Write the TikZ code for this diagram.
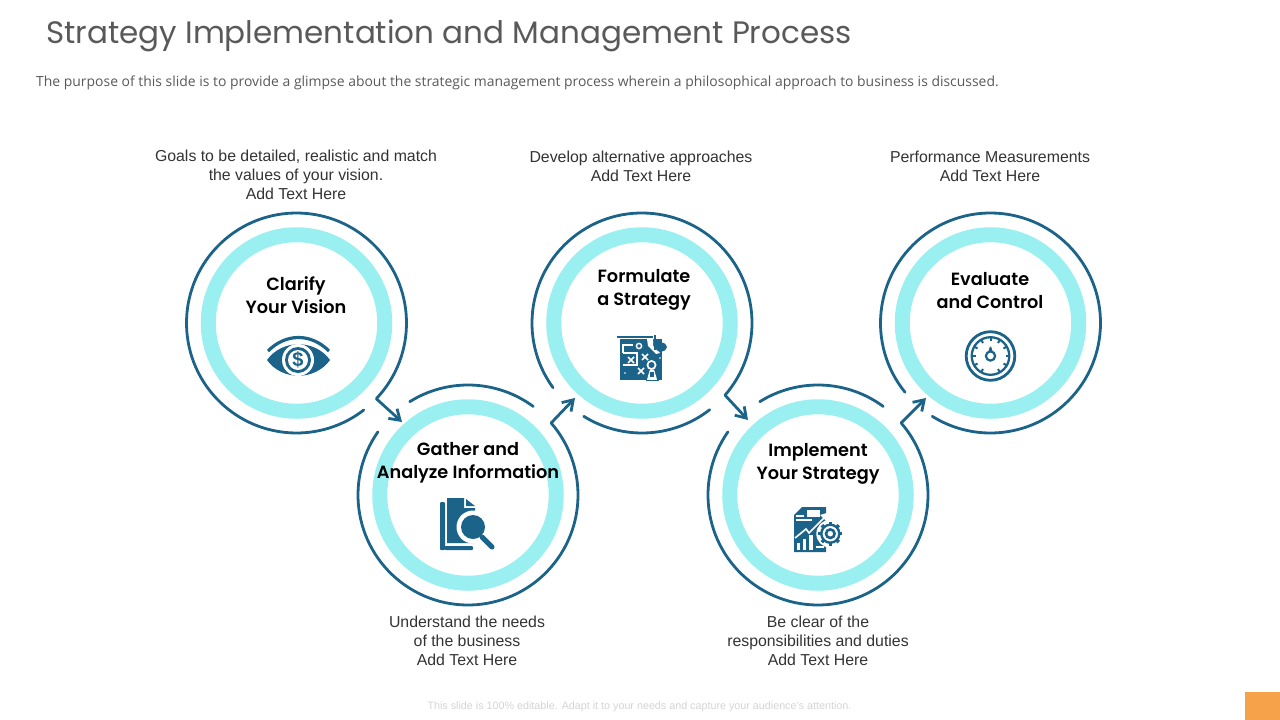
\documentclass[tikz,border=0pt]{standalone}
\usepackage{fontspec}
\usetikzlibrary{arrows.meta,calc}
\setmainfont{Liberation Sans}
\newfontfamily\titlefont{Poppins}
\newfontfamily\labelfont{Poppins SemiBold}
\newfontfamily\subfont{Open Sans}
\definecolor{navy}{HTML}{1B6388}
\definecolor{aqua}{HTML}{9AF0F0}
\definecolor{greytext}{HTML}{595959}
\definecolor{bodytext}{HTML}{333333}
\definecolor{foot}{HTML}{D4D4D4}
\definecolor{corner}{HTML}{F5A24B}
\tikzset{
 x=1pt,y=1pt,
 ring/.style={circle,draw=aqua,line width=15pt,minimum size=176.5pt,inner sep=0pt},
 arcline/.style={draw=navy,line width=2.8pt,line cap=round},
 connector/.style={draw=navy,line width=2.8pt,line join=miter,-{Straight Barb[length=10pt,width=13pt,line width=2.8pt]}},
 steptext/.style={font=\labelfont\fontsize{17.7}{23}\selectfont,align=center,text=black,inner sep=0pt},
 note/.style={font=\fontsize{15.85}{19}\selectfont,align=center,text=bodytext,inner sep=0pt},
 whiteline/.style={draw=white,line width=1.4pt},
}
\begin{document}
\begin{tikzpicture}
\useasboundingbox (0,0) rectangle (1280,-720);
% rings
\node[ring] (c1) at (296.5,-323) {};
\node[ring] (c2) at (468,-495) {};
\node[ring] (c3) at (642,-323) {};
\node[ring] (c4) at (818,-495) {};
\node[ring] (c5) at (990.5,-323) {};
% outer arcs
\draw[arcline] ($(c1)+(-43.5:110)$) arc[start angle=-43.5,end angle=307.7,radius=110pt];
\draw[arcline] ($(c2)+(53.6:110)$) arc[start angle=53.6,end angle=122,radius=110pt];
\draw[arcline] ($(c2)+(145:110)$) arc[start angle=145,end angle=400.9,radius=110pt];
\draw[arcline] ($(c3)+(216:110)$) arc[start angle=216,end angle=-41,radius=110pt];
\draw[arcline] ($(c3)+(238:110)$) arc[start angle=238,end angle=308,radius=110pt];
\draw[arcline] ($(c4)+(53.6:110)$) arc[start angle=53.6,end angle=122,radius=110pt];
\draw[arcline] ($(c4)+(145:110)$) arc[start angle=145,end angle=400.9,radius=110pt];
\draw[arcline] ($(c5)+(219:110)$) arc[start angle=219,end angle=-122,radius=110pt];
% connectors
\coordinate (a1s) at ($(c1)+(-43.5:110)$); \coordinate (a1e) at (402,-422);
\coordinate (a2s) at ($(c2)+(40.9:110)$);  \coordinate (a2e) at (575,-398);
\coordinate (a3s) at ($(c3)+(-41:110)$);   \coordinate (a3e) at (748,-420);
\coordinate (a4s) at ($(c4)+(40.9:110)$);  \coordinate (a4e) at (926,-398);
\draw[connector] (a1s) -- (a1e);
\draw[connector] (a2s) -- (a2e);
\draw[connector] (a3s) -- (a3e);
\draw[connector] (a4s) -- (a4e);
% step labels
\node[steptext] (l1) at (296,-295) {Clarify\\Your Vision};
\node[steptext] (l2) at (468,-463) {Gather and\\Analyze Information};
\node[steptext] (l3) at (644,-289.5) {Formulate\\ a Strategy};
\node[steptext] (l4) at (818,-464) {Implement\\Your Strategy};
\node[steptext] (l5) at (990,-291) {Evaluate\\and Control};
% notes
\node[note] (n1) at (296,-175) {Goals to be detailed, realistic and match\\the values of your vision.\\Add Text Here};
\node[note] (n3) at (641,-166) {Develop alternative approaches\\Add Text Here};
\node[note] (n5) at (990,-166) {Performance Measurements\\Add Text Here};
\node[note] (n2) at (467,-641) {Understand the needs\\of the business\\Add Text Here};
\node[note] (n4) at (818,-641) {Be clear of the\\responsibilities and duties\\Add Text Here};
% header / footer
\node[anchor=base west,inner sep=0pt,text=greytext,font=\titlefont\fontsize{31}{38}\selectfont] (title) at (46,-43) {Strategy Implementation and Management Process};
\node[anchor=base west,inner sep=0pt,text=greytext,font=\subfont\fontsize{13.93}{16}\selectfont] (sub) at (36,-86) {The purpose of this slide is to provide a glimpse about the strategic management process wherein a philosophical approach to business is discussed.};
\node[anchor=center,inner sep=0pt,text=foot,font=\fontsize{10.75}{12}\selectfont] (foot) at (639.5,-707) {This slide is 100\% editable. Adapt it to your needs and capture your audience's attention.};
\fill[corner] (1245,-692) rectangle (1280,-720);
% eye icon
\draw[navy,line width=3.2pt] (268,-351) .. controls (286,-333) and (311,-333) .. (329,-351);
\fill[navy] (267,-360) .. controls (282,-339) and (315,-339) .. (330,-360) .. controls (315,-381) and (282,-381) .. (267,-360) -- cycle;
\fill[white] (298,-360) circle (16);
\fill[navy] (298,-360) circle (13);
\fill[white] (298,-360) circle (10);
\node[text=navy,inner sep=0pt,font=\bfseries\fontsize{20}{20}\selectfont] (dollar) at (298,-360) {\$};
% document + magnifier icon
\fill[navy,rounded corners=1pt] (440,-502) rectangle (445,-550) -- (473,-550) -- (473,-546) -- (440,-546) -- cycle;
\fill[navy] (447,-498) -- (464,-498) -- (464,-508) -- (475,-508) -- (475,-543) -- (447,-543) -- cycle;
\fill[navy] (466,-499) -- (475,-506) -- (466,-506) -- cycle;
\fill[white] (473,-527) circle (16.5);
\fill[navy] (473,-527) circle (12);
\draw[navy,line width=5pt,line cap=round] (482,-537) -- (492,-547);
% strategy board icon
\fill[navy] (620,-339) rectangle (662,-380);
\draw[navy,line width=1.5pt] (617,-337) -- (653,-337);
\fill[white] (647,-339) -- (653,-339) -- (653,-346) -- (660,-353) -- (656,-354) -- (648,-346) -- cycle;
\draw[navy,line width=2pt] (655,-335) -- (655,-350);
\fill[navy] (661,-347) ellipse (6 and 4.5);
\draw[whiteline,line width=1.2pt] (623,-353) -- (623,-345) -- (633,-345);
\draw[whiteline,line width=1.2pt] (623,-353) -- (637,-353) -- (637,-365) -- (623,-365);
\draw[whiteline] (639,-346) circle (2.6);
\draw[whiteline,line width=1.6pt] (628,-357) -- (634,-363) (634,-357) -- (628,-363);
\draw[whiteline,line width=1.6pt] (642,-354) -- (648,-360) (648,-354) -- (642,-360);
\draw[whiteline,line width=1.6pt] (638,-368) -- (644,-374) (644,-368) -- (638,-374);
\fill[white] (625,-373) circle (0.9);
\fill[white] (660,-358) circle (0.9);
\fill[white] (651.5,-365) circle (5);
\fill[navy] (651.5,-365) circle (3);
\fill[white] (647,-380) -- (648,-376) -- (650,-369.5) -- (654,-369.5) -- (656,-376) -- (657,-380) -- cycle;
\fill[navy] (650,-377) rectangle (654,-372);
\draw[navy,line width=1pt] (646,-380.5) -- (659,-380.5);
% report + gear icon
\fill[navy] (794,-515) -- (802,-507) -- (826,-507) -- (826,-552) -- (794,-552) -- cycle;
\fill[white] (807,-510) rectangle (820,-517);
\draw[whiteline] (796,-520) -- (812,-520);
\draw[whiteline] (796,-516) -- (804,-516);
\draw[white,line width=1.6pt] (795,-538) -- (806,-529) -- (809,-533) -- (826,-516);
\fill[white] (830,-512) -- (820,-515) -- (827,-522) -- cycle;
\fill[white] (797,-550) rectangle (800,-543);
\fill[white] (803,-550) rectangle (806,-539);
\fill[white] (809,-550) rectangle (813,-535);
\fill[white] (830.3,-533.7) circle (14);
\draw[whiteline] (816,-547) -- (824,-547);
\draw[navy,line width=2.4pt] (830.3,-533.7) circle (9);
\foreach \ang in {0,45,...,315} \draw[navy,line width=3.4pt] ($(830.3,-533.7)+(\ang:9)$) -- ($(830.3,-533.7)+(\ang:12)$);
\draw[navy,line width=2.6pt] (830.3,-533.7) circle (4.3);
% gauge icon
\draw[navy,line width=2.8pt] (990.5,-356) circle (24.3);
\draw[navy,line width=2.3pt] (990.5,-356) circle (18.8);
\foreach \ang in {-60,-30,...,240} \draw[navy,line width=2pt] ($(990.5,-356)+(\ang:18.8)$) -- ($(990.5,-356)+(\ang:15)$);
\draw[navy,line width=2.2pt] (990.5,-356) circle (4.6);
\fill[navy] (988.5,-351) -- (992.5,-351) -- (991.1,-346.5) -- (989.9,-346.5) -- cycle;
\end{tikzpicture}
\end{document}
